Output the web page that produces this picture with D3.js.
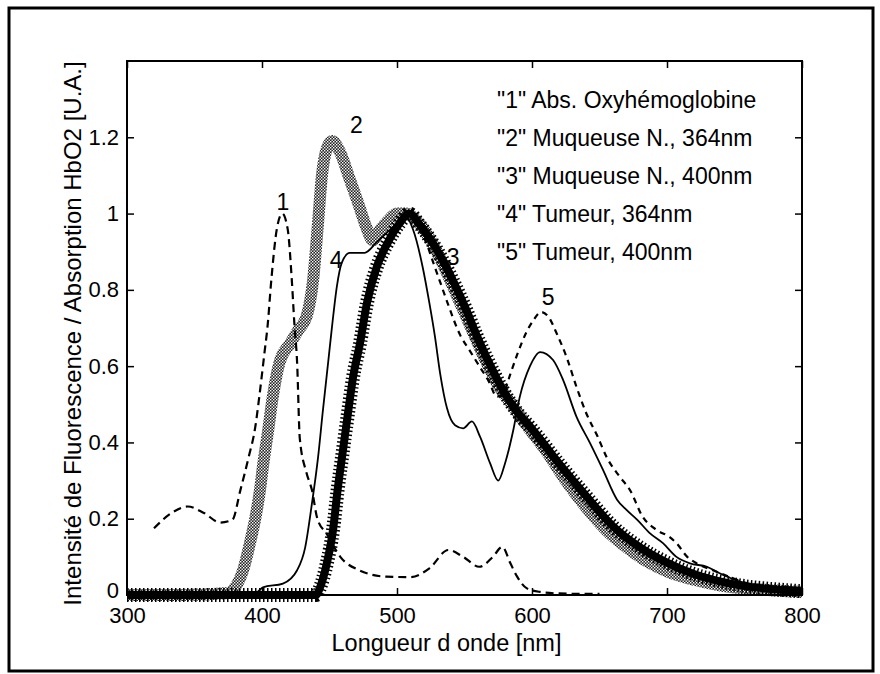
<!DOCTYPE html>
<html><head><meta charset="utf-8">
<script src="https://cdn.jsdelivr.net/npm/d3@7"></script>
<style>
html,body{margin:0;padding:0;background:#fff;}
svg text{font-family:"Liberation Sans",Arial,sans-serif;fill:#000;}
</style></head>
<body><svg id="c" width="880" height="674"></svg>
<script>
// ---- data ----
const xTicks = [300, 400, 500, 600, 700, 800];
const xTickLabels = ["300", "400", "500", "600", "700", "800"];
const yTicks = [0, 0.2, 0.4, 0.6, 0.8, 1.0, 1.2];
const yTickLabels = ["0", "0.2", "0.4", "0.6", "0.8", "1", "1.2"];
const legendLabels = ['"1" Abs. Oxyhémoglobine', '"2" Muqueuse N., 364nm', '"3" Muqueuse N., 400nm', '"4" Tumeur, 364nm', '"5" Tumeur, 400nm'];
const curveNames = ["1", "2", "3", "4", "5"];
const xLabel = "Longueur d onde [nm]";
const yLabel = "Intensité de Fluorescence / Absorption HbO2 [U.A.]";

// curve 1: absorption oxyhemoglobin (dashed)
const wl1 = [320,333,345,357,369,378,384,390,395,398,402,404,407,411,415,419,422,424,426,428,433,437,441,448,458,472,492,510,524,538,549,561,571,578,584,589,596,606,620,635,650];
const v1  = [0.175,0.215,0.232,0.215,0.19,0.197,0.275,0.36,0.44,0.52,0.64,0.70,0.83,0.96,1.0,0.96,0.83,0.71,0.61,0.41,0.32,0.275,0.2,0.16,0.1,0.065,0.048,0.047,0.07,0.118,0.1,0.074,0.1,0.126,0.083,0.048,0.018,0.008,0.004,0.003,0.003];
// curve 2: muqueuse normale 364nm (grey hatched)
const wl2 = [300,340,375,380,386,391,395,398.5,401,404.5,408,413,421,427,433,438,441.5,444.4,448,452,458,465,471,477.7,482,487,493,500,507,515,525,535,545,555,565,575,585,595,610,625,640,655,670,685,700,720,740,760,780,800];
const v2  = [0,0,0.005,0.02,0.065,0.135,0.2,0.275,0.345,0.43,0.52,0.61,0.66,0.695,0.73,0.83,0.975,1.1,1.17,1.19,1.16,1.09,1.03,0.96,0.93,0.955,0.98,1.0,1.0,0.98,0.93,0.86,0.78,0.70,0.62,0.55,0.50,0.45,0.38,0.30,0.23,0.17,0.125,0.088,0.062,0.04,0.025,0.017,0.012,0.008];
// curve 3: muqueuse normale 400nm (thick black crosses)
const wl3 = [300,440,443,448,452.6,456,460,463.7,467.4,472.6,477.7,485,492.6,502,509,517,527,535,542,551,559,568,578,589,600,620,640,660,680,700,720,740,760,780,800];
const v3  = [0,0,0.02,0.083,0.17,0.275,0.38,0.477,0.57,0.66,0.765,0.86,0.92,0.975,1.0,0.97,0.92,0.87,0.82,0.75,0.68,0.61,0.54,0.48,0.435,0.345,0.26,0.18,0.125,0.085,0.055,0.035,0.022,0.015,0.01];
// curve 4: tumeur 364nm (solid)
const wl4 = [300,395,400.7,415.5,426,432,437,441.5,445,449,451.6,455.5,459,465,476,485,492.6,500,507,512,519,524,528,532,537,543,549,555.5,561.5,569,575,580,586,591,598.5,606,615.6,623,633,643,652.6,663,670,678,687,697,707,717,729.6,739,750,765,780,800];
const v4  = [0,0.005,0.02,0.03,0.065,0.125,0.24,0.36,0.48,0.61,0.695,0.81,0.87,0.897,0.897,0.925,0.95,0.975,0.99,0.957,0.86,0.765,0.68,0.58,0.49,0.445,0.437,0.455,0.415,0.345,0.30,0.345,0.43,0.52,0.60,0.637,0.616,0.564,0.467,0.398,0.328,0.25,0.223,0.197,0.163,0.136,0.1,0.083,0.074,0.057,0.04,0.025,0.015,0.008];
// curve 5: tumeur 400nm (dashed)
const wl5 = [300,440,443,448,452.6,456,460,463.7,467.4,472.6,477.7,485,492.6,502,508,515,521,527,532,537,547,554,561,568,574,579,584,589,596,601,606.7,612,619,626,633,641,648,655.5,665,672.6,682,692.6,702,707,715,722,734,746.7,760,780,800];
const v5  = [0,0,0.02,0.083,0.17,0.275,0.38,0.477,0.57,0.66,0.765,0.86,0.92,0.975,1.0,0.97,0.93,0.87,0.82,0.77,0.68,0.64,0.6,0.56,0.52,0.53,0.58,0.63,0.69,0.72,0.742,0.73,0.68,0.62,0.545,0.47,0.42,0.36,0.31,0.275,0.205,0.17,0.152,0.136,0.1,0.083,0.065,0.047,0.03,0.015,0.01];

// label anchor values (data coords, baseline) for curve numbers
const numLabelX = [415.5, 470, 541.5, 455, 612];
const numLabelY = [1.01, 1.21, 0.865, 0.857, 0.76];

// ---- drawing ----
const svg = d3.select("#c");
const M = {l:127, r:802, t:61, b:595};
const x = d3.scaleLinear().domain([300, 800]).range([M.l, M.r]);
const y = d3.scaleLinear().domain([0, 1.4]).range([M.b, M.t]);

const defs = svg.append("defs");
const pat = defs.append("pattern").attr("id","hatch").attr("patternUnits","userSpaceOnUse").attr("width",3).attr("height",3);
pat.append("rect").attr("width",3).attr("height",3).attr("fill","#222");
pat.append("rect").attr("x",0).attr("y",0).attr("width",1.4).attr("height",1.4).attr("fill","#fff");
pat.append("rect").attr("x",1.5).attr("y",1.5).attr("width",1.4).attr("height",1.4).attr("fill","#fff");

// outer frame
svg.append("rect").attr("x",9).attr("y",8).attr("width",864).attr("height",663)
  .attr("fill","none").attr("stroke","#000").attr("stroke-width",3);

const line = d3.line().x(d=>x(d[0])).y(d=>y(d[1])).curve(d3.curveMonotoneX);
const zip = (a,b)=>a.map((v,i)=>[v,b[i]]);

// curve 2
svg.append("path").datum(zip(wl2,v2)).attr("d",line).attr("fill","none")
  .attr("stroke","url(#hatch)").attr("stroke-width",12).attr("stroke-linejoin","round");
// curve 3
svg.append("path").datum(zip(wl3,v3)).attr("d",line).attr("fill","none")
  .attr("stroke","#000").attr("stroke-width",8).attr("stroke-linejoin","round");
svg.append("path").datum(zip(wl3,v3)).attr("d",line).attr("fill","none")
  .attr("stroke","#000").attr("stroke-width",14).attr("stroke-dasharray","1.5,2.5");
// curve 4
svg.append("path").datum(zip(wl4,v4)).attr("d",line).attr("fill","none")
  .attr("stroke","#000").attr("stroke-width",1.8);
// curve 5
svg.append("path").datum(zip(wl5,v5)).attr("d",line).attr("fill","none")
  .attr("stroke","#000").attr("stroke-width",2.2).attr("stroke-dasharray","6,5");
// curve 1
svg.append("path").datum(zip(wl1,v1)).attr("d",line).attr("fill","none")
  .attr("stroke","#000").attr("stroke-width",2.2).attr("stroke-dasharray","8,5");

// axes (MATLAB-like: inward ticks on all four sides)
const fs = 22;
const gx = svg.append("g").attr("transform",`translate(0,${M.b})`)
  .call(d3.axisBottom(x).tickValues(xTicks).tickFormat((d,i)=>xTickLabels[i]).tickSizeInner(-7).tickSizeOuter(0).tickPadding(12));
const gxt = svg.append("g").attr("transform",`translate(0,${M.t})`)
  .call(d3.axisTop(x).tickValues(xTicks).tickFormat("").tickSizeInner(-7).tickSizeOuter(0));
const gy = svg.append("g").attr("transform",`translate(${M.l},0)`)
  .call(d3.axisLeft(y).tickValues(yTicks).tickFormat((d,i)=>yTickLabels[i]).tickSizeInner(-7).tickSizeOuter(0).tickPadding(8));
const gyr = svg.append("g").attr("transform",`translate(${M.r},0)`)
  .call(d3.axisRight(y).tickValues(yTicks).tickFormat("").tickSizeInner(-7).tickSizeOuter(0));
[gx,gxt,gy,gyr].forEach(g=>{
  g.selectAll(".domain").remove();
  g.selectAll("line").attr("stroke","#000").attr("stroke-width",1.5);
  g.selectAll("text").attr("font-size",fs).attr("font-family","Liberation Sans, Arial, sans-serif");
});
gy.selectAll(".tick text").filter(d=>d===0).attr("dy","0.1em");
svg.append("rect").attr("x",M.l).attr("y",M.t).attr("width",M.r-M.l).attr("height",M.b-M.t)
  .attr("fill","none").attr("stroke","#000").attr("stroke-width",2);

// axis titles
svg.append("text").attr("x",446.5).attr("y",651).attr("text-anchor","middle")
  .attr("font-size",23.5).text(xLabel);
svg.append("text").attr("transform",`translate(81,333.5) rotate(-90)`).attr("text-anchor","middle")
  .attr("font-size",24).text(yLabel);

// legend text
svg.append("g").selectAll("text").data(legendLabels).join("text")
  .attr("x",497).attr("y",(d,i)=>108 + i*38).attr("font-size",23).text(d=>d);

// curve numbers
svg.append("g").selectAll("text").data(curveNames).join("text")
  .attr("x",(d,i)=>x(numLabelX[i])).attr("y",(d,i)=>y(numLabelY[i]))
  .attr("text-anchor","middle").attr("font-size",23)
  .attr("font-family","Liberation Serif, Times New Roman, serif").text(d=>d);
</script></body></html>
